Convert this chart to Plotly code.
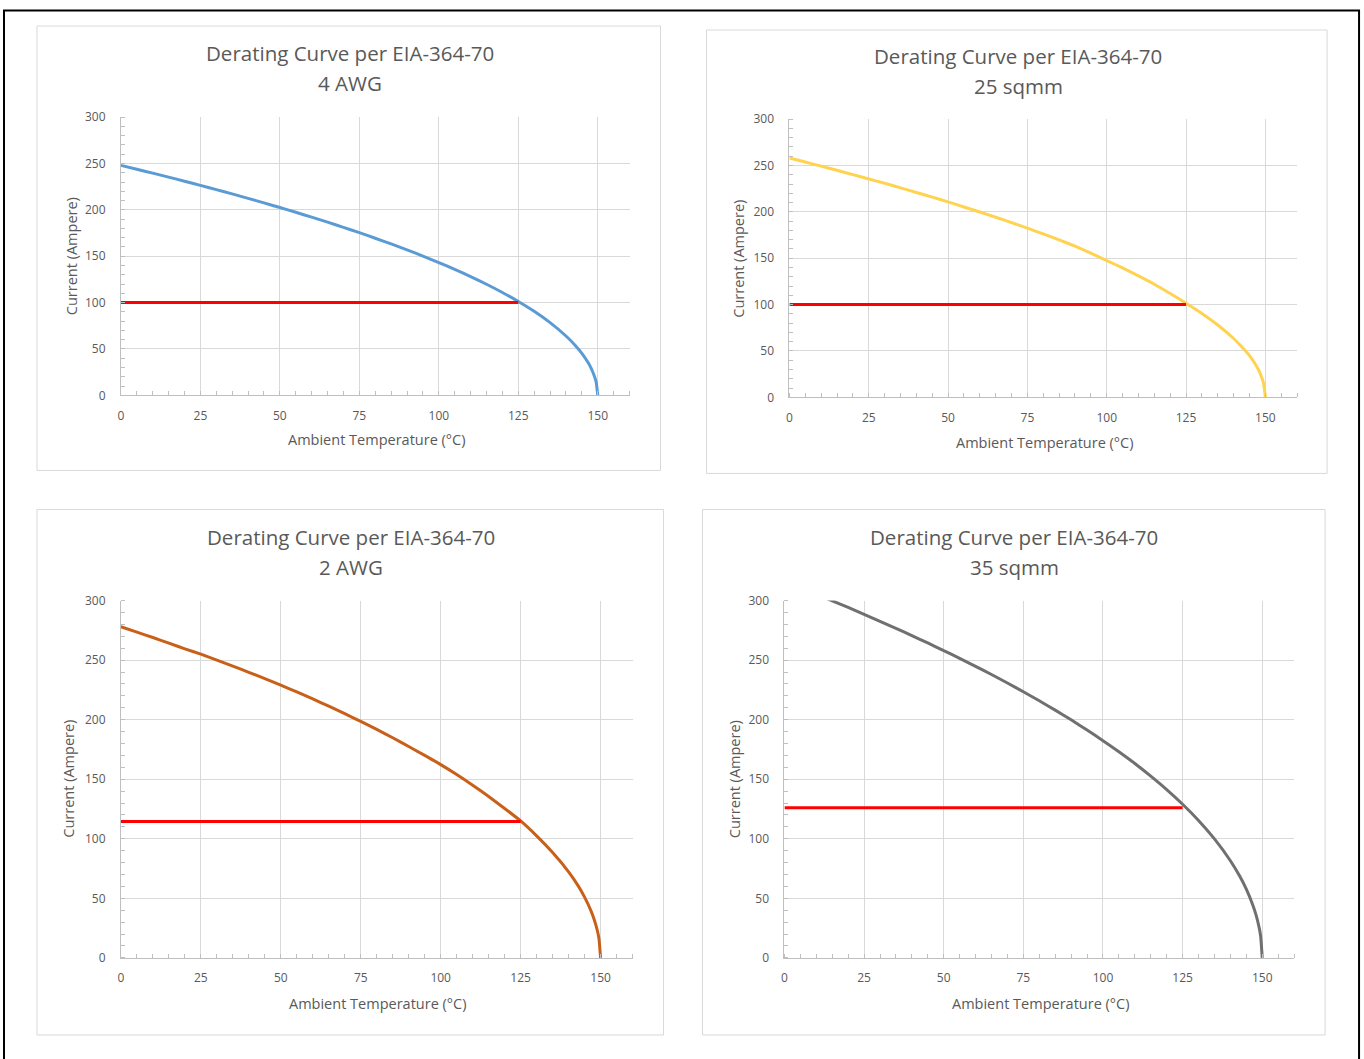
import plotly.graph_objects as go

# ---------------- data ----------------
temps = [0, 5, 10, 15, 20, 25, 30, 35, 40, 45, 50, 55, 60, 65, 70, 75, 80, 85, 90,
         95, 100, 105, 110, 115, 120, 125, 130, 135, 140, 143, 145, 147, 148, 149,
         149.5, 150]

awg4_current = [248, 243.8, 239.6, 235.3, 230.9, 226.4, 221.8, 217.2, 212.4, 207.5,
                202.5, 197.4, 192.1, 186.7, 181.1, 175.4, 169.4, 163.3, 156.9, 150.2,
                143.2, 135.8, 128.1, 119.8, 110.9, 101.2, 90.6, 78.4, 64.0, 53.6,
                45.3, 35.1, 28.6, 20.2, 14.3, 0]

sqmm25_current = [258, 253.7, 249.3, 244.8, 240.2, 235.5, 230.8, 225.9, 220.9, 215.9,
                  210.7, 205.3, 199.8, 194.2, 188.4, 182.4, 176.2, 169.8, 163.0, 155.6,
                  147.5, 139.5, 131.0, 122.0, 112.0, 101.5, 90.5, 78.0, 63.5, 53.0,
                  45.0, 35.0, 28.5, 20.0, 14.0, 0]

awg2_current = [278, 273.5, 269.0, 264.2, 259.5, 255.0, 250.0, 245.0, 239.8, 234.5,
                229.0, 223.3, 217.5, 211.3, 205.0, 198.5, 191.8, 184.8, 177.5, 170.0,
                162.3, 154.0, 145.0, 135.5, 125.5, 115.0, 102.5, 88.5, 72.3, 60.5,
                51.0, 39.5, 32.2, 22.8, 16.1, 0]

sqmm35_current = [316, 310.7, 305.3, 299.8, 294.2, 288.5, 282.6, 276.7, 270.6, 264.4,
                  258.0, 251.5, 244.8, 237.9, 230.8, 223.4, 215.9, 208.0, 199.9, 191.3,
                  182.4, 173.1, 163.2, 152.6, 141.3, 129.0, 115.4, 99.9, 81.6, 68.3,
                  57.7, 44.7, 36.5, 25.8, 18.2, 0]

limit_temps = [0, 125]
awg4_limit = [100, 100]
sqmm25_limit = [100, 100]
awg2_limit = [114.5, 114.5]
sqmm35_limit = [126, 126]

chart_title = "Derating Curve per EIA-364-70"
subtitles = ["4 AWG", "25 sqmm", "2 AWG", "35 sqmm"]
x_title = "Ambient Temperature (°C)"
y_title = "Current (Ampere)"
x_ticks = [0, 25, 50, 75, 100, 125, 150]
y_ticks = [0, 50, 100, 150, 200, 250, 300]

# ---------------- layout constants (pixels) ----------------
W, H = 1364, 1059
FONT = "Open Sans"
TXT = "#595959"
GRID = "#d9d9d9"
AXIS = "#bfbfbf"

# calibration of the photographed page (observed = OFF + SCALE * drawn)
OFF_X, SCALE_X = 2.0, 0.9985
OFF_Y, SCALE_Y = 9.0, 0.983

curves = [awg4_current, sqmm25_current, awg2_current, sqmm35_current]
limits = [awg4_limit, sqmm25_limit, awg2_limit, sqmm35_limit]
colors = ["#5B9BD5", "#FFD34F", "#C9601A", "#707070"]

# target pixel positions in the reference
# plot areas: (x_left, x_right(at 160), y_top(300), y_bottom(0))
areas = [(120, 629, 117, 395), (789, 1297, 119, 397),
         (120, 632, 600, 957), (784, 1294, 600, 957)]
boxes = [(36, 660, 26, 470), (706, 1327, 30, 473),
         (36, 663, 509, 1034), (702, 1325, 509, 1034)]
title_pos = [(349, 53), (1018, 56), (350, 536), (1014, 536)]
xt_pos = [(376, 439), (1044, 442), (377, 1003), (1040, 1003)]
yt_pos = [(70, 256), (738, 258), (68, 778), (734, 778)]


def px(x):
    return ((x - OFF_X) / SCALE_X) / W


def py(y):
    return 1 - ((y - OFF_Y) / SCALE_Y) / H


fig = go.Figure()
layout = dict(width=W, height=H, autosize=False, margin=dict(l=0, r=0, t=0, b=0, pad=0),
              paper_bgcolor="white", plot_bgcolor="white", showlegend=False,
              font=dict(family=FONT, color=TXT))
shapes = []
annotations = []

for i in range(4):
    n = "" if i == 0 else str(i + 1)
    xa, ya = "x" + n, "y" + n
    fig.add_trace(go.Scatter(x=temps, y=curves[i], mode="lines",
                             line=dict(color=colors[i], width=3, shape="spline",
                                       smoothing=0.5),
                             xaxis=xa, yaxis=ya, hoverinfo="skip"))
    fig.add_trace(go.Scatter(x=limit_temps, y=limits[i], mode="lines",
                             line=dict(color="#FF0000", width=3),
                             xaxis=xa, yaxis=ya, hoverinfo="skip"))
    xl, xr, yt, yb = areas[i]
    layout["xaxis" + n] = dict(
        domain=[px(xl), px(xr)], range=[0, 160], anchor=ya,
        tickmode="array", tickvals=x_ticks,
        showgrid=True, gridcolor=GRID, gridwidth=1, zeroline=False,
        showline=True, linecolor=AXIS, linewidth=1,
        ticks="", ticklabelstandoff=9,
        tickfont=dict(family=FONT, size=12, color=TXT),
        minor=dict(dtick=5, tick0=0, ticks="inside", ticklen=4,
                   tickcolor=AXIS, showgrid=False),
        fixedrange=True)
    layout["yaxis" + n] = dict(
        domain=[py(yb), py(yt)], range=[0, 300], anchor=xa,
        tickmode="array", tickvals=y_ticks,
        showgrid=True, gridcolor=GRID, gridwidth=1, zeroline=False,
        showline=True, linecolor=AXIS, linewidth=1,
        ticks="", ticklabelstandoff=12,
        tickfont=dict(family=FONT, size=12, color=TXT),
        minor=dict(dtick=10, tick0=0, ticks="inside", ticklen=4,
                   tickcolor=AXIS, showgrid=False),
        fixedrange=True)

    bx0, bx1, by0, by1 = boxes[i]
    shapes.append(dict(type="rect", xref="paper", yref="paper",
                       x0=px(bx0), x1=px(bx1), y0=py(by1), y1=py(by0),
                       line=dict(color=GRID, width=1), fillcolor="rgba(0,0,0,0)",
                       layer="below"))
    tx, ty = title_pos[i]
    annotations.append(dict(text=chart_title, x=px(tx), y=py(ty), xref="paper",
                            yref="paper", showarrow=False, xanchor="center",
                            yanchor="middle", font=dict(family=FONT, size=20.5, color=TXT)))
    annotations.append(dict(text=subtitles[i], x=px(tx), y=py(ty + 30), xref="paper",
                            yref="paper", showarrow=False, xanchor="center",
                            yanchor="middle", font=dict(family=FONT, size=20.5, color=TXT)))
    ax_x, ax_y = xt_pos[i]
    annotations.append(dict(text=x_title, x=px(ax_x), y=py(ax_y), xref="paper",
                            yref="paper", showarrow=False, xanchor="center",
                            yanchor="middle", font=dict(family=FONT, size=14.5, color=TXT)))
    ay_x, ay_y = yt_pos[i]
    annotations.append(dict(text=y_title, x=px(ay_x), y=py(ay_y), xref="paper",
                            yref="paper", showarrow=False, xanchor="center",
                            yanchor="middle", textangle=-90,
                            font=dict(family=FONT, size=14.5, color=TXT)))

# outer black frame (top edge pushed to the very top of the drawable page)
shapes.append(dict(type="rect", xref="paper", yref="paper",
                   x0=px(3), x1=px(1359), y0=-0.02, y1=min(py(4), 1 - 1.5 / H),
                   line=dict(color="black", width=2), fillcolor="rgba(0,0,0,0)"))

layout["shapes"] = shapes
layout["annotations"] = annotations
fig.update_layout(**layout)

pin_page = ("document.documentElement.style.margin='0px';"
            "document.body.style.margin='0px';"
            "document.body.style.overflow='hidden';"
            "var gd=document.getElementById('{plot_id}');"
            "gd.style.position='fixed';gd.style.left='0px';gd.style.top='0px';")
fig.write_html("out.html", config={"displayModeBar": False}, post_script=pin_page)
